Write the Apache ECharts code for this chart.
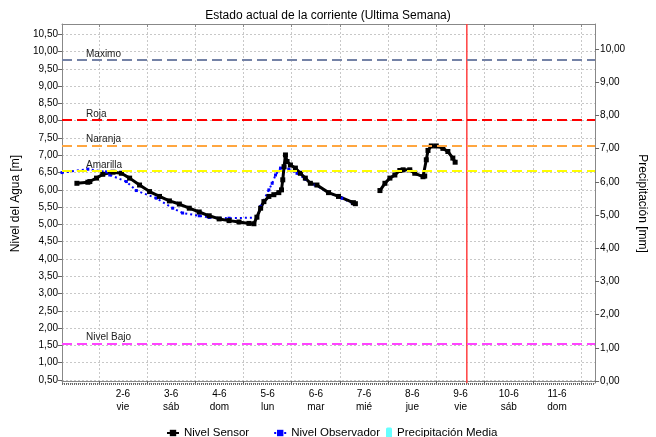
<!DOCTYPE html>
<html><head><meta charset="utf-8">
<script src="https://cdn.jsdelivr.net/npm/echarts@6/dist/echarts.min.js"></script>
<style>html,body{margin:0;padding:0;background:#fff}#c{width:656px;height:437px}</style>
</head><body><div id="c"></div>
<script>
// ---- data (x = day of June, decimal) ----
const chartTitle = 'Estado actual de la corriente (Ultima Semana)';
const dayGridValues = [2, 3, 4, 5, 6, 7, 8, 9, 10, 11, 12];
const dayTickValues = [2.5, 3.5, 4.5, 5.5, 6.5, 7.5, 8.5, 9.5, 10.5, 11.5];
const dayLabels = ['2-6', '3-6', '4-6', '5-6', '6-6', '7-6', '8-6', '9-6', '10-6', '11-6'];
const weekdayLabels = ['vie', 'sáb', 'dom', 'lun', 'mar', 'mié', 'jue', 'vie', 'sáb', 'dom'];

const sensorDays = [1.546, 1.773, 1.814, 1.953, 2.082, 2.295, 2.468, 2.639, 2.845, 3.052, 3.258, 3.464, 3.670, 3.876, 4.082, 4.289, 4.495, 4.701, 4.907, 5.113, 5.216, 5.278, 5.355, 5.423, 5.526, 5.629, 5.732, 5.788, 5.814, 5.841, 5.870, 5.903, 5.973, 6.076, 6.179, 6.282, 6.386, 6.522, 6.763, 6.969, 7.278, 7.320,
  7.55,
  7.829, 7.932, 8.035, 8.138, 8.241, 8.309, 8.447, 8.551, 8.722, 8.757, 8.790, 8.825, 8.893, 8.996, 9.134, 9.237, 9.340, 9.388];
const sensorLevels = [6.19, 6.22, 6.24, 6.34, 6.45, 6.51, 6.48, 6.34, 6.14, 5.95, 5.81, 5.68, 5.59, 5.47, 5.36, 5.25, 5.16, 5.11, 5.07, 5.03, 5.02, 5.21, 5.47, 5.66, 5.81, 5.86, 5.92, 6.00, 6.29, 6.67, 7.01, 6.82, 6.72, 6.63, 6.48, 6.34, 6.19, 6.14, 5.92, 5.81, 5.63, 5.60,
  null,
  5.98, 6.19, 6.34, 6.43, 6.56, 6.58, 6.58, 6.48, 6.38, 6.40, 6.87, 7.14, 7.27, 7.27, 7.20, 7.11, 6.92, 6.80];

const observerDays = [1.237, 1.773, 2.159, 2.227, 2.571, 2.777, 3.190, 3.532, 3.738, 4.082, 4.289, 4.701, 5.278, 5.355, 5.526, 5.594, 5.664, 5.767, 5.938, 6.109, 6.282, 6.488, 6.763, 7.037, 7.278];
const observerLevels = [6.50, 6.60, 6.52, 6.43, 6.24, 5.98, 5.76, 5.47, 5.33, 5.25, 5.20, 5.18, 5.20, 5.52, 6.00, 6.19, 6.43, 6.63, 6.60, 6.48, 6.31, 6.14, 5.92, 5.76, 5.60];

const precipDays = [];
const precipValues = [];

const thresholdNames = ['Maximo', 'Roja', 'Naranja', 'Amarilla', 'Nivel Bajo'];
const thresholdLevels = [9.75, 8.02, 7.29, 6.55, 1.56];
const currentTimeDay = 9.63;

// ---- axis extents & styles ----
const X_MIN = 1.237, X_MAX = 12.289;
const Y_MIN = 0.413, Y_MAX = 10.798;
const thresholdColors = ['#7482a6', '#ff0000', '#ffa640', '#ffff00', '#ff44ff'];
const FONT = 'Liberation Sans';
const fmt = v => v.toFixed(2).replace('.', ',');
const hourTicks = [];
for (let h = Math.ceil(X_MIN * 24); h <= Math.floor(X_MAX * 24); h++) hourTicks.push(h / 24);

const zip = (a, b) => a.map((x, i) => [x, b[i] === null ? '-' : b[i]]);

const markData = thresholdNames.map((n, i) => ({
  name: n, yAxis: thresholdLevels[i],
  lineStyle: { color: thresholdColors[i], type: [10, 5], width: 2 },
  label: { show: true, formatter: n, position: 'insideStartTop', distance: [24, 1], color: '#222', fontSize: 10, fontFamily: FONT }
}));

const chart = echarts.init(document.getElementById('c'));
chart.setOption({
  animation: false,
  backgroundColor: '#fff',
  textStyle: { fontFamily: FONT },
  title: { text: chartTitle, left: 'center', top: 5, textStyle: { fontSize: 12, fontWeight: 'normal', color: '#000', fontFamily: FONT } },
  grid: { left: 62, right: 58, top: 24, bottom: 54 },
  legend: [
    { data: ['Nivel Sensor', 'Nivel Observador'], left: 166, top: 427, padding: 0, itemWidth: 12, itemHeight: 8, itemGap: 24,
      textStyle: { fontSize: 11.5, color: '#000', fontFamily: FONT } },
    { data: ['Precipitación Media'], left: 386, top: 427, padding: 0, itemWidth: 6, itemHeight: 11,
      textStyle: { fontSize: 11.5, color: '#000', fontFamily: FONT } }
  ],
  xAxis: [
    { type: 'value', min: X_MIN, max: X_MAX,
      axisLine: { show: true, lineStyle: { color: '#888' } },
      axisTick: { show: true, customValues: dayGridValues, length: 3, lineStyle: { color: '#666' } },
      splitLine: { show: true, lineStyle: { color: '#c8c8c8', type: [2, 2] } },
      axisLabel: { customValues: dayTickValues, margin: 5, fontSize: 10, color: '#000', lineHeight: 13, fontFamily: FONT,
        formatter: v => { const i = dayTickValues.indexOf(v); return i < 0 ? '' : dayLabels[i] + '\n' + weekdayLabels[i]; } } },
    { type: 'value', position: 'top', min: X_MIN, max: X_MAX,
      axisLine: { show: true, lineStyle: { color: '#888' } },
      axisTick: { show: true, customValues: dayGridValues, inside: true, length: 3, lineStyle: { color: '#888' } },
      splitLine: { show: false }, axisLabel: { show: false } },
    { type: 'value', position: 'bottom', min: X_MIN, max: X_MAX,
      axisLine: { show: false },
      axisTick: { show: true, customValues: hourTicks, length: 2, lineStyle: { color: '#666' } },
      splitLine: { show: false }, axisLabel: { show: false } }
  ],
  yAxis: [
    { type: 'value', min: Y_MIN, max: Y_MAX, minInterval: 0.5, maxInterval: 0.5, splitNumber: 20,
      name: 'Nivel del Agua [m]', nameLocation: 'middle', nameGap: 40, nameTextStyle: { fontSize: 12, color: '#000', fontFamily: FONT },
      axisLine: { show: true, lineStyle: { color: '#888' } },
      axisTick: { show: true, length: 4, lineStyle: { color: '#666' } },
      splitLine: { show: true, lineStyle: { color: '#c8c8c8', type: [2, 2] } },
      axisLabel: { showMinLabel: false, showMaxLabel: false, margin: 4, fontSize: 10, color: '#000', fontFamily: FONT, formatter: fmt } },
    { type: 'value', position: 'right', min: -0.06, max: 10.753, minInterval: 1, maxInterval: 1, splitNumber: 11,
      name: 'Precipitación [mm]', nameLocation: 'middle', nameGap: 40, nameRotate: -90, nameTextStyle: { fontSize: 12, color: '#000', fontFamily: FONT },
      axisLine: { show: true, lineStyle: { color: '#888' } },
      axisTick: { show: true, length: 4, lineStyle: { color: '#666' } },
      splitLine: { show: false },
      axisLabel: { showMinLabel: false, showMaxLabel: false, margin: 5, fontSize: 10, color: '#000', fontFamily: FONT, formatter: fmt } }
  ],
  series: [
    { name: 'Precipitación Media', type: 'bar', yAxisIndex: 1, data: zip(precipDays, precipValues), itemStyle: { color: '#66ffff' } },
    { name: 'Ahora', type: 'line', data: [[currentTimeDay, Y_MIN], [currentTimeDay, Y_MAX]], symbol: 'none', silent: true,
      itemStyle: { color: '#ff4040' }, lineStyle: { color: '#ff4040', width: 1.5, type: 'solid' }, z: 4 },
    { name: 'Nivel Observador', type: 'line', data: zip(observerDays, observerLevels), symbol: 'rect', symbolSize: 3,
      itemStyle: { color: '#0000ff' }, lineStyle: { color: '#0000ff', width: 2, type: [2, 3] },
      markLine: { silent: true, symbol: ['none', 'none'], data: markData } },
    { name: 'Nivel Sensor', type: 'line', data: zip(sensorDays, sensorLevels), symbol: 'rect', symbolSize: 5, connectNulls: false,
      itemStyle: { color: '#000' }, lineStyle: { color: '#000', width: 3 }, z: 3 }
  ]
});
</script></body></html>
